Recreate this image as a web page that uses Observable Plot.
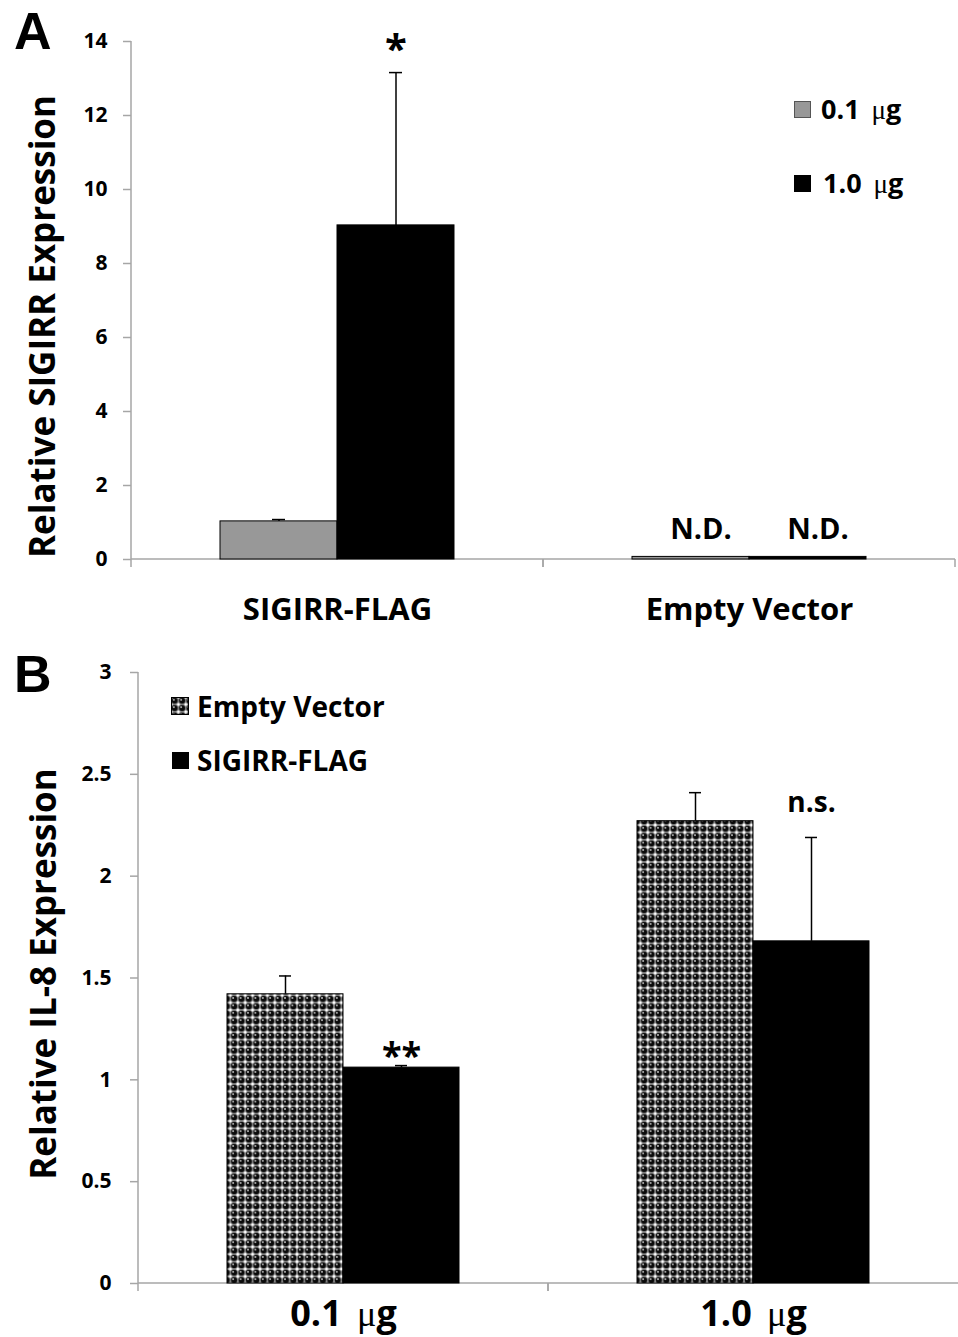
<!DOCTYPE html>
<html>
<head>
<meta charset="utf-8">
<script src="https://cdn.jsdelivr.net/npm/d3@7"></script>
<script src="https://cdn.jsdelivr.net/npm/@observablehq/plot@0.6"></script>
<style>
  body { margin: 0; background: #fff; font-family: "Open Sans", sans-serif; }
  #wrap { position: relative; width: 958px; height: 1337px; overflow: hidden; }
  .panel { position: absolute; left: 0; width: 958px; }
  .letter { position: absolute; font-family: "Liberation Sans", Arial, sans-serif; font-weight: 700; font-size: 52px; line-height: 1; }
  .lrow { position: absolute; display: flex; align-items: center; white-space: nowrap; font-weight: 700; line-height: 1; color: #000; }
  .mu { font-family: "Liberation Serif", serif; font-weight: 400; }
  .sw { display: inline-block; box-sizing: border-box; }
</style>
</head>
<body>
<svg width="0" height="0" style="position:absolute">
  <defs>
    <pattern id="spheres" patternUnits="userSpaceOnUse" width="7.4" height="7.4">
      <rect width="7.4" height="7.4" fill="white"/>
      <circle cx="3.7" cy="3.7" r="3.55" fill="#0a0a0a" stroke="#8a8a8a" stroke-width="0.8"/>
      <circle cx="2.8" cy="2.7" r="0.9" fill="#d8d8d8"/>
    </pattern>
  </defs>
</svg>
<div id="wrap">
  <div id="panelA" class="panel" style="top:0"></div>
  <div id="panelB" class="panel" style="top:640px"></div>
  <div class="letter" style="left:14px;top:5px">A</div>
  <div class="letter" style="left:14px;top:648px">B</div>

  <div class="lrow" style="left:794px;top:100px;height:18px;font-size:27px">
    <span class="sw" style="width:17px;height:17px;background:#989898;border:1.5px solid #555"></span>
    <span style="margin-left:10px">0.1&nbsp;<span class="mu" style="margin-left:5px">μ</span>g</span>
  </div>
  <div class="lrow" style="left:794px;top:174px;height:18px;font-size:27px">
    <span class="sw" style="width:17px;height:17px;background:#000"></span>
    <span style="margin-left:12px">1.0&nbsp;<span class="mu" style="margin-left:5px">μ</span>g</span>
  </div>

  <div class="lrow" style="left:171px;top:697px;height:18px;font-size:28px">
    <svg width="18" height="18" style="display:block"><rect x="0.5" y="0.5" width="17" height="17" fill="url(#spheres)" stroke="#000" stroke-width="1"/></svg>
    <span style="margin-left:8px">Empty Vector</span>
  </div>
  <div class="lrow" style="left:172px;top:751px;height:18px;font-size:28px">
    <span class="sw" style="width:17px;height:17px;background:#000"></span>
    <span style="margin-left:8px">SIGIRR-FLAG</span>
  </div>
</div>
<script>
// ---------- Panel A data ----------
const groupsA = ["SIGIRR-FLAG", "Empty Vector"];
const seriesA = ["0.1 μg", "1.0 μg"];
const meansA_low = [1.03, 0.07];
const meansA_high = [9.03, 0.07];
const errA_low = [0.05, 0];
const errA_high = [4.13, 0];
const notesA_low = ["", "N.D."];
const notesA_high = ["*", "N.D."];
const ticksA = [0, 2, 4, 6, 8, 10, 12, 14];
const titleA = "Relative SIGIRR Expression";

// ---------- Panel B data ----------
const groupsB = ["0.1 μg", "1.0 μg"];
const seriesB = ["Empty Vector", "SIGIRR-FLAG"];
const meansB_empty = [1.42, 2.27];
const meansB_sigirr = [1.06, 1.68];
const errB_empty = [0.09, 0.14];
const errB_sigirr = [0.01, 0.51];
const notesB_sigirr = ["**", "n.s."];
const ticksB = [0, 0.5, 1, 1.5, 2, 2.5, 3];
const titleB = "Relative IL-8 Expression";

// ---------- build rows ----------
const rowsA = groupsA.flatMap((g, i) => [
  {group: g, series: seriesA[0], value: meansA_low[i], error: errA_low[i], note: notesA_low[i]},
  {group: g, series: seriesA[1], value: meansA_high[i], error: errA_high[i], note: notesA_high[i]}
]);
const rowsB = groupsB.flatMap((g, i) => [
  {group: g, series: seriesB[0], value: meansB_empty[i], error: errB_empty[i], note: ""},
  {group: g, series: seriesB[1], value: meansB_sigirr[i], error: errB_sigirr[i], note: notesB_sigirr[i]}
]);

const NS = "http://www.w3.org/2000/svg";
function el(name, attrs) {
  const e = document.createElementNS(NS, name);
  for (const k in attrs) e.setAttribute(k, attrs[k]);
  return e;
}

// axis line along y=0 with Excel-style ticks at category boundaries, plus vertical y-axis line
function axisFrame(groups, lastTick) {
  return Plot.ruleY(groups, {
    fx: d => d,
    y: () => 0,
    stroke: "#a6a6a6",
    strokeWidth: 1.5,
    render(index, scales) {
      const [x0, x1] = scales.x.range();
      const [yb, yt] = scales.y.range();
      const y0 = scales.y(0);
      const g = el("g", {stroke: "#a6a6a6", "stroke-width": 1.5, fill: "none"});
      g.append(el("line", {x1: x0, x2: x1, y1: y0, y2: y0}));
      g.append(el("line", {x1: x0, x2: x0, y1: y0, y2: y0 + 8}));
      if (lastTick || !index.includes(groups.length - 1)) g.append(el("line", {x1: x1, x2: x1, y1: y0, y2: y0 + 8}));
      if (index.includes(0)) g.append(el("line", {x1: x0, x2: x0, y1: yt, y2: y0}));
      return g;
    }
  });
}

function fixMu(root) {
  root.querySelectorAll("text").forEach(t => {
    if (t.querySelector("tspan")) return;
    const s = t.textContent;
    if (!s.includes("μ")) return;
    t.textContent = "";
    s.split(/(μ)/).forEach(part => {
      if (!part) return;
      const ts = el("tspan", {});
      ts.textContent = part;
      if (part === "μ") { ts.setAttribute("font-family", "Liberation Serif, serif"); ts.setAttribute("font-weight", "400"); ts.setAttribute("dx", "6"); }
      t.append(ts);
    });
  });
}

const baseStyle = {fontFamily: "'Open Sans', sans-serif", fontWeight: 700, background: "white", overflow: "visible", color: "black"};

// ---------- Panel A ----------
const withErrA = rowsA.filter(d => d.error > 0);
const plotA = Plot.plot({
  width: 958, height: 640,
  marginTop: 41, marginBottom: 81, marginLeft: 131, marginRight: 3,
  style: baseStyle,
  fx: {domain: groupsA, padding: 0, label: null},
  x: {domain: seriesA, paddingInner: 0, paddingOuter: 0.753, axis: null},
  y: {domain: [0, 14]},
  marks: [
    axisFrame(groupsA, true),
    Plot.axisY({ticks: ticksA, tickSize: 8, tickPadding: 16, stroke: "#a6a6a6", strokeWidth: 1.5, fill: "black", fontSize: 21, fontWeight: 700, label: null, tickFormat: d => String(d)}),
    Plot.axisFx({anchor: "bottom", tickSize: 0, tickPadding: 38, fontSize: 31, fontWeight: 700, fill: "black", label: null}),
    Plot.barY(rowsA.filter(d => d.series === seriesA[0]), {fx: "group", x: "series", y: "value", fill: "#989898", stroke: "black", strokeWidth: 1}),
    Plot.barY(rowsA.filter(d => d.series === seriesA[1]), {fx: "group", x: "series", y: "value", fill: "black", stroke: "black", strokeWidth: 1}),
    Plot.ruleX(withErrA, {fx: "group", x: "series", y1: "value", y2: d => d.value + d.error, stroke: "black", strokeWidth: 1.5}),
    Plot.tickY(withErrA, {fx: "group", x: "series", y: d => d.value + d.error, insetLeft: 52, insetRight: 52, stroke: "black", strokeWidth: 1.5}),
    Plot.text(rowsA.filter(d => d.note === "*"), {fx: "group", x: "series", y: d => d.value + d.error, text: "note", dy: -22, fontSize: 40, fontWeight: 700, fill: "black"}),
    Plot.text(rowsA.filter(d => d.note === "N.D."), {fx: "group", x: "series", y: "value", text: "note", dx: 10, dy: -27, fontSize: 29, fontWeight: 700, fill: "black"}),
    Plot.text([groupsA[0]], {fx: d => d, text: () => titleA, frameAnchor: "left", textAnchor: "middle", rotate: -90, dx: -88, dy: 26, fontSize: 35, fontWeight: 700, fill: "black"})
  ]
});
fixMu(plotA);
document.getElementById("panelA").append(plotA);

// ---------- Panel B ----------
const withErrB = rowsB.filter(d => d.error > 0);
const plotB = Plot.plot({
  width: 958, height: 697,
  marginTop: 32, marginBottom: 54, marginLeft: 137, marginRight: 0,
  style: baseStyle,
  fx: {domain: groupsB, padding: 0, label: null},
  x: {domain: seriesB, paddingInner: 0, paddingOuter: 0.753, axis: null},
  y: {domain: [0, 3]},
  marks: [
    axisFrame(groupsB, false),
    Plot.axisY({ticks: ticksB, tickSize: 8, tickPadding: 19, stroke: "#a6a6a6", strokeWidth: 1.5, fill: "black", fontSize: 21, fontWeight: 700, label: null, tickFormat: d => String(d)}),
    Plot.axisFx({anchor: "bottom", tickSize: 0, tickPadding: 17, fontSize: 36, fontWeight: 700, fill: "black", label: null}),
    Plot.barY(rowsB.filter(d => d.series === seriesB[0]), {fx: "group", x: "series", y: "value", fill: "url(#spheres)", stroke: "black", strokeWidth: 1}),
    Plot.barY(rowsB.filter(d => d.series === seriesB[1]), {fx: "group", x: "series", y: "value", fill: "black", stroke: "black", strokeWidth: 1}),
    Plot.ruleX(withErrB, {fx: "group", x: "series", y1: "value", y2: d => d.value + d.error, stroke: "black", strokeWidth: 1.5}),
    Plot.tickY(withErrB, {fx: "group", x: "series", y: d => d.value + d.error, insetLeft: 52, insetRight: 52, stroke: "black", strokeWidth: 1.5}),
    Plot.text(rowsB.filter(d => d.note === "**"), {fx: "group", x: "series", y: d => d.value + d.error, text: "note", dy: -9, fontSize: 36, fontWeight: 700, fill: "black"}),
    Plot.text(rowsB.filter(d => d.note === "n.s."), {fx: "group", x: "series", y: d => d.value + d.error, text: "note", dy: -34, fontSize: 28, fontWeight: 700, fill: "black"}),
    Plot.text([groupsB[0]], {fx: d => d, text: () => titleB, frameAnchor: "left", textAnchor: "middle", rotate: -90, dx: -94, dy: -4, fontSize: 35, fontWeight: 700, fill: "black"})
  ]
});
fixMu(plotB);
document.getElementById("panelB").append(plotB);
</script>
</body>
</html>
